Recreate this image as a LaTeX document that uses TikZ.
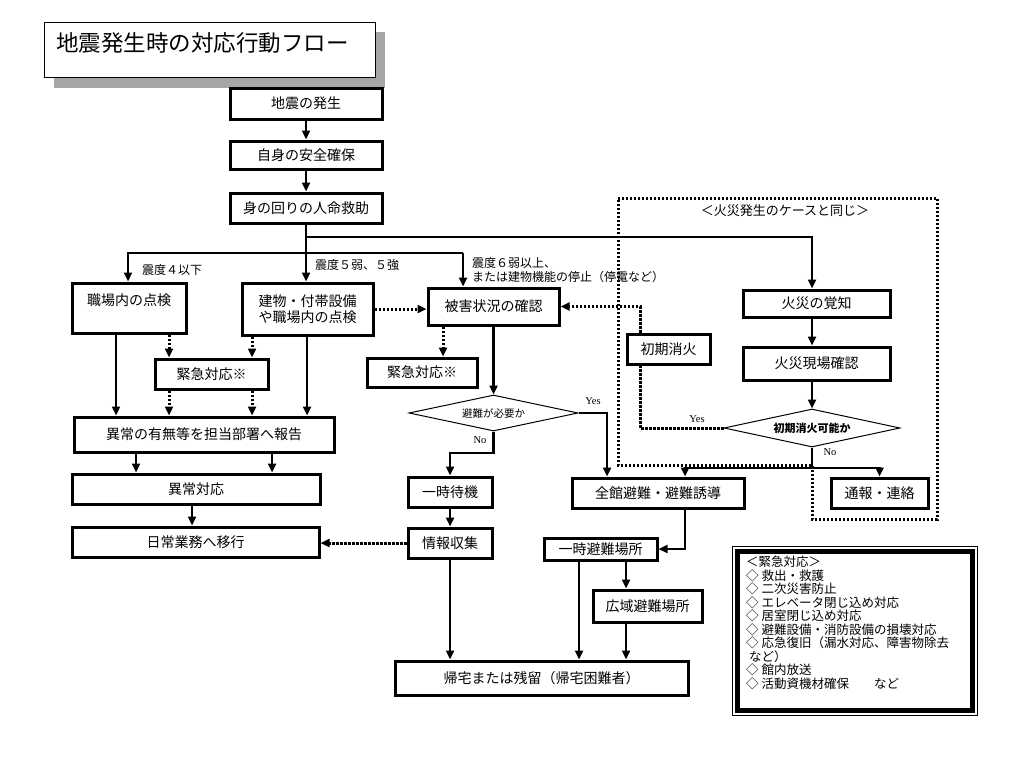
\documentclass[tikz,border=0pt]{standalone}
\usepackage{fontspec}
\setmainfont{Liberation Serif}
\newfontfamily\jp{Noto Sans CJK JP}
\usepackage{tikz}
\usetikzlibrary{arrows.meta,shapes.geometric,shadows}

\tikzset{
    box/.style={draw, line width=3pt, fill=white, inner sep=0pt, align=center, font=\jp\fontsize{14}{16}\selectfont},
    ln/.style={line width=2.6pt},
    arr/.style={ln, -{Triangle[length=9pt,width=8pt]}},
    dotln/.style={line width=3pt, dash pattern=on 2.4pt off 1.6pt},
    darr/.style={dotln, -{Triangle[length=9pt,width=8pt]}},
    ask/.style={draw, shape=diamond, aspect=4.7, line width=1pt, fill=white, inner sep=0pt},
    lbl/.style={anchor=west, align=left, inner sep=0pt, font=\jp\fontsize{12}{14}\selectfont},
    yn/.style={inner sep=0pt, font=\fontsize{10.5}{12}\selectfont}
}

\begin{document}
\begin{tikzpicture}[x=1pt,y=-1pt]

    \fill[white] (0,0) rectangle (1024,768);
    \useasboundingbox (0,0) rectangle (1024,768);

    \node[draw, line width=1pt, fill=white, minimum width=331, minimum height=55, anchor=north west,
        drop shadow={shadow xshift=9pt, shadow yshift=-10pt, fill=black!35, opacity=1}] (titlebox) at (44,22) {};
    \node[anchor=west, inner sep=0pt, font=\jp\fontsize{22.5}{26}\selectfont] (title) at (56,43) {地震発生時の対応行動フロー};

    % fire case frame
    \draw[dotln] (618,198) -- (937,198) -- (937,519) -- (812,519) -- (812,465) -- (618,465) -- cycle;
    \node[inner sep=0pt, font=\jp\fontsize{13}{15}\selectfont] (same) at (785,211) {＜火災発生のケースと同じ＞};

    \node[box, minimum width=152, minimum height=31] (quake) at (306,103.5) {地震の発生};
    \node[box, minimum width=152, minimum height=28] (safe) at (306,155) {自身の安全確保};
    \node[box, minimum width=152, minimum height=30] (rescue) at (306,208) {身の回りの人命救助};

    \node[box, minimum width=114, minimum height=50] (office) at (129,308) {職場内の点検\\\mbox{}};
    \node[box, minimum width=131, minimum height=52] (bldg) at (307.5,309) {建物・付帯設備\\や職場内の点検};
    \node[box, minimum width=131, minimum height=37] (damage) at (493.5,306.5) {被害状況の確認};
    \node[box, minimum width=113, minimum height=30] (urgA) at (211.5,374) {緊急対応※};
    \node[box, minimum width=110, minimum height=29] (urgB) at (422,372.5) {緊急対応※};
    \node[box, minimum width=260, minimum height=35] (report) at (204,434.5) {異常の有無等を担当部署へ報告};
    \node[box, minimum width=248, minimum height=30] (fix) at (196,489) {異常対応};
    \node[box, minimum width=247, minimum height=30] (normal) at (195.5,542) {日常業務へ移行};

    \node[ask, minimum width=169, minimum height=36, font=\jp\fontsize{10.5}{12}\selectfont] (need) at (493.5,413) {避難が必要か};
    \node[box, minimum width=84, minimum height=30] (wait) at (450,492) {一時待機};
    \node[box, minimum width=84, minimum height=30] (info) at (450,543) {情報収集};
    \node[box, minimum width=293, minimum height=34] (home) at (541.5,678) {帰宅または残留（帰宅困難者）};
    \node[box, minimum width=172, minimum height=30] (evac) at (658,493) {全館避難・避難誘導};
    \node[box, minimum width=113, minimum height=22] (tmp) at (600.5,549) {一時避難場所};
    \node[box, minimum width=109, minimum height=32] (wide) at (647.5,606) {広域避難場所};

    \node[box, minimum width=147, minimum height=27] (aware) at (816.5,303.5) {火災の覚知};
    \node[box, minimum width=147, minimum height=33] (site) at (816.5,363.5) {火災現場確認};
    \node[box, minimum width=83, minimum height=30] (first) at (668.5,349) {初期消火};
    \node[ask, aspect=4.6, minimum width=176, minimum height=38, font=\jp\bfseries\fontsize{11}{13}\selectfont] (can) at (812,428) {初期消火可能か};
    \node[box, minimum width=97, minimum height=30] (call) at (879.5,493) {通報・連絡};

    % main flow
    \draw[arr] (quake) -- (safe);
    \draw[arr] (safe) -- (rescue);
    \draw[arr] (rescue.south) -- (rescue.south |- bldg.north);

    \coordinate (fk) at (812,237);
    \coordinate (lk) at (128,253);
    \coordinate (rk) at (463,253);
    \draw[arr] (rescue.south |- fk) -- (fk) -- (fk |- aware.north);
    \draw[arr] (rk) -- (lk) -- (lk |- office.north);
    \draw[arr] (rk) -- (rk |- damage.north);

    \node[lbl] (lvA) at (142,270) {震度４以下};
    \node[lbl] (lvB) at (315,265) {震度５弱、５強};
    \node[lbl] (lvC) at (472,270) {震度６弱以上、\\または建物機能の停止（停電など）};

    \foreach \x/\n in {169/office,252/bldg}{
        \draw[darr] (\x,0 |- \n.south) -- (\x,0 |- urgA.north);
        \draw[darr] (\x,0 |- urgA.south) -- (\x,0 |- report.north);
    }
    \foreach \x/\n in {116/office,307/bldg}{
        \draw[arr] (\x,0 |- \n.south) -- (\x,0 |- report.north);
    }
    \foreach \x in {136,272}{
        \draw[arr] (\x,0 |- report.south) -- (\x,0 |- fix.north);
    }
    \draw[arr] (192,0 |- fix.south) -- (192,0 |- normal.north);

    \draw[darr] (bldg.east) -- (bldg.east -| damage.west);
    \draw[darr] (443,0 |- damage.south) -- (443,0 |- urgB.north);
    \draw[arr] (damage) -- (need);

    \draw[arr] (need.east) -| (607,0 |- evac.north);
    \node[yn] (yesA) at (593,401) {Yes};
    \draw[arr] (need.south) -- (need.south |- 0,453) -| (wait.north);
    \node[yn] (noA) at (480,440) {No};

    \draw[arr] (wait) -- (info);
    \draw[arr] (info.south) -- (info.south |- home.north);
    \draw[darr] (info.west) -- (info.west -| normal.east);

    \draw[arr] (685,0 |- evac.south) |- (tmp.east);
    \draw[arr] (579,0 |- tmp.south) -- (579,0 |- home.north);
    \draw[arr] (626,0 |- tmp.south) -- (626,0 |- wide.north);
    \draw[arr] (626,0 |- wide.south) -- (626,0 |- home.north);

    % fire flow
    \draw[arr] (812,0 |- aware.south) -- (812,0 |- site.north);
    \draw[arr] (812,0 |- site.south) -- (can.north);
    \coordinate (nk) at (812,468);
    \draw[ln] (can.south) -- (nk);
    \draw[arr] (nk) -| (685,0 |- evac.north);
    \draw[arr] (nk) -| (call.north);
    \node[yn] (noB) at (830,452) {No};

    \draw[dotln] (can.west) -| (640,0 |- first.south);
    \draw[darr] (640,0 |- first.north) |- (damage.east);
    \node[yn] (yesB) at (697,419) {Yes};

    % key
    \node[draw, line width=1pt, minimum width=245, minimum height=169, anchor=north west] (keyout) at (732,546) {};
    \node[draw, line width=5pt, minimum width=235, minimum height=159] (keyin) at (keyout.center) {};
    \node[anchor=north west, align=left, inner sep=0pt, font=\jp\fontsize{12.5}{13.5}\selectfont] (keytext) at (746,556) {%
        ＜緊急対応＞\\
        ◇ 救出・救護\\
        ◇ 二次災害防止\\
        ◇ エレベータ閉じ込め対応\\
        ◇ 居室閉じ込め対応\\
        ◇ 避難設備・消防設備の損壊対応\\
        ◇ 応急復旧（漏水対応、障害物除去\\
        \hspace{3pt}など）\\
        ◇ 館内放送\\
        ◇ 活動資機材確保　　など};

\end{tikzpicture}
\end{document}
